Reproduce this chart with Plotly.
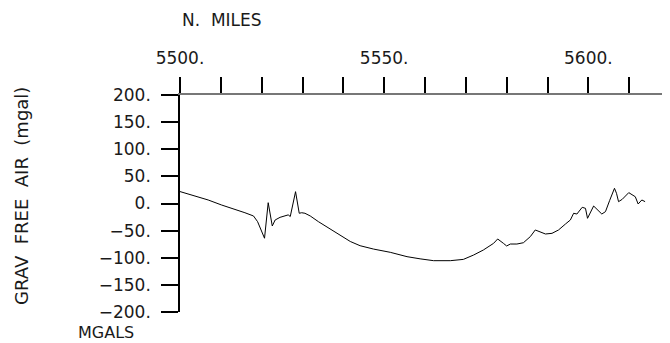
import plotly.graph_objects as go

# Distance along track (nautical miles) and free-air gravity anomaly (mgal)
miles = [5500.0, 5503.7, 5506.9, 5510.2, 5513.5, 5515.9, 5518.0, 5519.0, 5520.7, 5521.6,
         5522.6, 5523.3, 5524.5, 5526.5, 5527.0, 5528.3, 5529.2, 5529.8, 5530.6, 5531.9,
         5533.9, 5535.9, 5538.0, 5540.3, 5541.7, 5544.1, 5547.4, 5551.5, 5555.6, 5558.8,
         5562.1, 5566.2, 5569.4, 5571.9, 5574.3, 5576.8, 5577.8, 5579.2, 5580.0, 5580.9,
         5582.5, 5584.1, 5585.8, 5587.0, 5588.2, 5589.5, 5591.1, 5592.7, 5594.4, 5595.6,
         5596.4, 5597.2, 5598.5, 5599.3, 5599.8, 5601.3, 5603.3, 5604.2, 5605.2, 5606.4,
         5606.9, 5607.4, 5608.3, 5609.9, 5611.5, 5612.2, 5613.1, 5613.9]
grav = [22.0, 13.8, 6.5, -2.8, -10.7, -17.0, -23.0, -33.5, -64.0, 1.5,
        -41.5, -30.4, -25.5, -21.0, -24.0, 21.8, -18.0, -17.0, -18.0, -23.0,
        -33.5, -42.7, -52.0, -62.0, -70.0, -77.8, -84.0, -90.0, -98.0, -102.0,
        -105.4, -105.4, -103.0, -95.0, -85.7, -73.4, -65.4, -73.4, -78.3, -74.7,
        -74.7, -72.3, -61.0, -48.8, -52.0, -56.2, -55.0, -48.8, -37.8, -30.4,
        -18.0, -19.4, -7.0, -8.9, -27.3, -4.6, -19.4, -15.0, 5.2, 28.0,
        18.8, 3.4, 7.7, 20.0, 12.5, -0.9, 6.5, 3.4]

x_ticks = list(range(5500, 5621, 10))
x_labels = [f"{v}." if v % 50 == 0 else "" for v in x_ticks]
y_ticks = list(range(-200, 201, 50))
y_labels = [(f"\u2212{abs(v)}." if v < 0 else f"{v}.") for v in y_ticks]

font = "DejaVu Sans"
txt = "#1a1a1a"

fig = go.Figure()
fig.add_trace(go.Scatter(x=miles, y=grav, mode="lines",
                         line=dict(color="black", width=1), hoverinfo="skip"))

# The page body keeps an 8px margin, so the figure is 8px smaller each way.
fig.update_layout(
    width=662, height=335,
    margin=dict(l=172, r=0, t=87, b=31, autoexpand=False),
    paper_bgcolor="white", plot_bgcolor="white",
    showlegend=False,
    font=dict(family=font, size=14, color=txt),
    xaxis=dict(
        side="top", range=[5500, 5620], tickmode="array",
        tickvals=x_ticks, ticktext=x_labels,
        ticks="outside", ticklen=16, tickwidth=1.5, tickcolor="black",
        showline=True, linecolor="#777", linewidth=1.5,
        showgrid=False, zeroline=False, ticklabelstandoff=6,
        automargin=False,
        tickfont=dict(family=font, size=17, color=txt),
    ),
    yaxis=dict(
        range=[-200, 200], tickmode="array",
        tickvals=y_ticks, ticktext=y_labels,
        ticks="outside", ticklen=17, tickwidth=1.5, tickcolor="black",
        showline=True, linecolor="black", linewidth=1.5,
        showgrid=False, zeroline=False, ticklabelstandoff=7,
        automargin=False,
        tickfont=dict(family=font, size=17, color=txt),
    ),
    annotations=[
        dict(text="N.\u00a0\u00a0MILES", xref="paper", yref="paper", x=0.0, y=1.3456,
             xanchor="left", yanchor="middle", showarrow=False,
             font=dict(family=font, size=17, color=txt)),
        dict(text="MGALS", xref="paper", yref="paper", x=-0.151, y=-0.095,
             xanchor="center", yanchor="middle", showarrow=False,
             font=dict(family=font, size=16, color=txt)),
        dict(text="GRAV\u00a0\u00a0FREE\u00a0\u00a0AIR\u00a0\u00a0(mgal)", xref="paper", yref="paper",
             x=-0.3224, y=0.535, xanchor="center", yanchor="middle",
             textangle=-90, showarrow=False,
             font=dict(family=font, size=18, color=txt)),
    ],
)

fig.write_html("out.html")
